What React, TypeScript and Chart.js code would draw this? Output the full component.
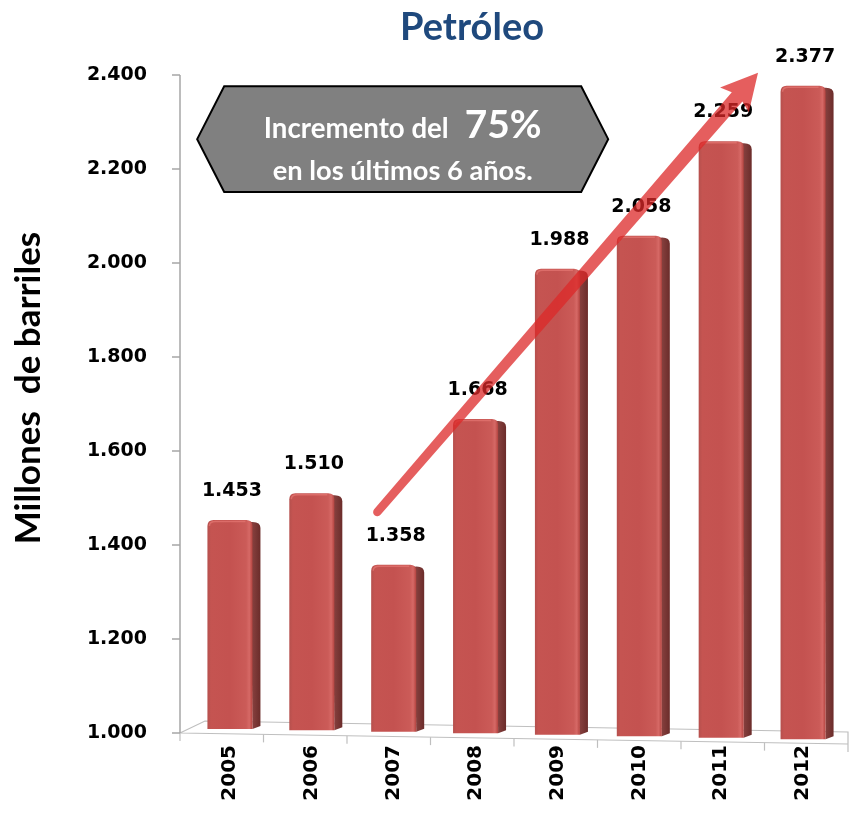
import React, { useEffect, useRef } from 'react';
import { Chart, registerables } from 'chart.js';

Chart.register(...registerables);

// ---- Data ----
const categories = ['2005', '2006', '2007', '2008', '2009', '2010', '2011', '2012'];
const values = [1453, 1510, 1358, 1668, 1988, 2058, 2259, 2377];
const yMin = 1000;
const yMax = 2400;
const yStep = 200;
const chartTitle = 'Petróleo';
const yTitle = 'Millones  de barriles';
const calloutLine1a = 'Incremento del';
const calloutLine1b = '75%';
const calloutLine2 = 'en los últimos 6 años.';
// arrow and callout anchored in data space (category index, value)
const arrowFrom = { x: 1.8, y: 1470 };
const arrowTo = { x: 6.45, y: 2405 };
const calloutBox = { x0: -0.4, x1: 4.62, yTop: 2376, yBottom: 2151 };

const fmt = (v: number) => String(Math.round(v)).replace(/\B(?=(\d{3})+(?!\d))/g, '.');

const TICK_FONT = '"DejaVu Sans", Verdana, sans-serif';
const TEXT_FONT = 'Lato, "Open Sans", sans-serif';

function fitSize(ctx: CanvasRenderingContext2D, text: string, target: number, family: string) {
  ctx.font = `bold 100px ${family}`;
  const w = ctx.measureText(text).width;
  return (100 * target) / w;
}

const customPlugin = {
  id: 'customDraw',
  beforeDatasetsDraw(chart: any) {
    const ctx: CanvasRenderingContext2D = chart.ctx;
    const area = chart.chartArea;
    const axisX = area.left - 9;
    const rightX = area.right + 4;
    const y0 = area.bottom;
    ctx.save();
    // floor
    ctx.strokeStyle = '#bfbfbf';
    ctx.lineWidth = 1.2;
    ctx.beginPath();
    ctx.moveTo(axisX, y0);
    ctx.lineTo(rightX, y0 + 11);
    ctx.moveTo(axisX, y0);
    ctx.lineTo(axisX + 25, y0 - 12);
    ctx.lineTo(rightX, y0 - 1);
    ctx.lineTo(rightX, y0 + 11);
    ctx.stroke();
    // floor ticks
    const n = categories.length;
    for (let i = 0; i <= n; i++) {
      const t = i / n;
      const x = axisX + (rightX - axisX) * t;
      const y = y0 + 11 * t;
      ctx.beginPath();
      ctx.moveTo(x, y);
      ctx.lineTo(x, y + 8);
      ctx.stroke();
    }
    // y axis line with ticks
    ctx.strokeStyle = '#a6a6a6';
    ctx.lineWidth = 1.5;
    ctx.beginPath();
    ctx.moveTo(axisX, area.top);
    ctx.lineTo(axisX, area.bottom);
    const ys = chart.scales.y;
    for (let v = yMin; v <= yMax; v += yStep) {
      const py = ys.getPixelForValue(v);
      ctx.moveTo(axisX - 8, py);
      ctx.lineTo(axisX, py);
    }
    ctx.stroke();
    ctx.restore();
  },
  afterDatasetsDraw(chart: any) {
    const ctx: CanvasRenderingContext2D = chart.ctx;
    const area = chart.chartArea;
    const xs = chart.scales.x;
    const ys = chart.scales.y;
    const meta = chart.getDatasetMeta(0);
    const axisX = area.left - 9;
    const rightX = area.right + 4;
    ctx.save();

    // bars (3D look)
    meta.data.forEach((el: any) => {
      const { x, y, width } = el.getProps(['x', 'y', 'width'], true);
      const left = x - width / 2;
      const right = x + width / 2;
      const t = (x - axisX) / (rightX - axisX);
      const base = area.bottom - 5 + 12 * t;
      const depth = 8;
      const r = 6;
      // side face
      const sg = ctx.createLinearGradient(right, 0, right + depth, 0);
      sg.addColorStop(0, '#86403e');
      sg.addColorStop(1, '#6b2c2a');
      ctx.fillStyle = sg;
      ctx.beginPath();
      ctx.moveTo(right - 2, y + 2);
      ctx.quadraticCurveTo(right + depth, y + 1, right + depth, y + r + 2);
      ctx.lineTo(right + depth, base - 3);
      ctx.lineTo(right, base);
      ctx.closePath();
      ctx.fill();
      // front face
      const fg = ctx.createLinearGradient(left, 0, right, 0);
      fg.addColorStop(0, '#b5504d');
      fg.addColorStop(0.08, '#c55451');
      fg.addColorStop(0.5, '#c45250');
      fg.addColorStop(0.86, '#cb5b58');
      fg.addColorStop(0.93, '#d66966');
      fg.addColorStop(1, '#b3433f');
      ctx.fillStyle = fg;
      ctx.beginPath();
      ctx.moveTo(left, base);
      ctx.lineTo(left, y + r);
      ctx.quadraticCurveTo(left, y, left + r, y);
      ctx.lineTo(right - r, y);
      ctx.quadraticCurveTo(right, y, right, y + r);
      ctx.lineTo(right, base);
      ctx.closePath();
      ctx.fill();
      // top rim highlight
      ctx.strokeStyle = 'rgba(230,120,115,0.7)';
      ctx.lineWidth = 1.5;
      ctx.beginPath();
      ctx.moveTo(left + 2, y + r);
      ctx.quadraticCurveTo(left + 2, y + 1.5, left + r + 2, y + 1.5);
      ctx.lineTo(right - r - 1, y + 1.5);
      ctx.stroke();
    });

    // data labels
    ctx.fillStyle = '#000';
    ctx.font = `bold 19px ${TICK_FONT}`;
    ctx.textAlign = 'center';
    ctx.textBaseline = 'middle';
    meta.data.forEach((el: any, i: number) => {
      const { x, y } = el.getProps(['x', 'y'], true);
      ctx.fillText(fmt(values[i]), x + 2, y - 29);
    });

    // arrow (tapered shaft + head, single fill)
    const x1 = xs.getPixelForValue(arrowFrom.x);
    const y1 = ys.getPixelForValue(arrowFrom.y);
    const x2 = xs.getPixelForValue(arrowTo.x);
    const y2 = ys.getPixelForValue(arrowTo.y);
    const L = Math.hypot(x2 - x1, y2 - y1);
    const ang = Math.atan2(y2 - y1, x2 - x1);
    const headLen = 32;
    const headHalf = 19;
    const w0 = 4.2;
    const w1 = 7;
    const Lb = L - headLen;
    ctx.save();
    ctx.translate(x1, y1);
    ctx.rotate(ang);
    ctx.fillStyle = 'rgba(220,40,40,0.75)';
    ctx.beginPath();
    ctx.moveTo(0, w0);
    ctx.arc(0, 0, w0, Math.PI / 2, (3 * Math.PI) / 2);
    ctx.lineTo(Lb, -w1);
    ctx.lineTo(Lb - 4, -headHalf);
    ctx.lineTo(L, 0);
    ctx.lineTo(Lb - 4, headHalf);
    ctx.lineTo(Lb, w1);
    ctx.closePath();
    ctx.fill();
    ctx.restore();

    // callout hexagon
    const cx0 = xs.getPixelForValue(calloutBox.x0);
    const cx1 = xs.getPixelForValue(calloutBox.x1);
    const cyT = ys.getPixelForValue(calloutBox.yTop);
    const cyB = ys.getPixelForValue(calloutBox.yBottom);
    const cyM = (cyT + cyB) / 2;
    const inset = 27;
    ctx.fillStyle = '#808080';
    ctx.strokeStyle = '#000';
    ctx.lineWidth = 2;
    ctx.beginPath();
    ctx.moveTo(cx0, cyM);
    ctx.lineTo(cx0 + inset, cyT);
    ctx.lineTo(cx1 - inset, cyT);
    ctx.lineTo(cx1, cyM);
    ctx.lineTo(cx1 - inset, cyB);
    ctx.lineTo(cx0 + inset, cyB);
    ctx.closePath();
    ctx.fill();
    ctx.stroke();

    const boxW = cx1 - cx0;
    const cxC = (cx0 + cx1) / 2;
    const s1 = fitSize(ctx, calloutLine1a, boxW * 0.45, TEXT_FONT);
    const s1b = fitSize(ctx, calloutLine1b, boxW * 0.187, TEXT_FONT);
    const s2 = fitSize(ctx, calloutLine2, boxW * 0.633, TEXT_FONT);
    ctx.fillStyle = '#fff';
    ctx.textBaseline = 'alphabetic';
    ctx.textAlign = 'left';
    ctx.font = `bold ${s1}px ${TEXT_FONT}`;
    const wA = ctx.measureText(calloutLine1a).width;
    ctx.font = `bold ${s1b}px ${TEXT_FONT}`;
    const wB = ctx.measureText(calloutLine1b).width;
    const gap = 16;
    const startX = cxC - (wA + gap + wB) / 2;
    const base1 = cyT + (cyB - cyT) * 0.49;
    const base2 = cyT + (cyB - cyT) * 0.89;
    ctx.font = `bold ${s1}px ${TEXT_FONT}`;
    ctx.fillText(calloutLine1a, startX, base1);
    ctx.font = `bold ${s1b}px ${TEXT_FONT}`;
    ctx.fillText(calloutLine1b, startX + wA + gap, base1);
    ctx.textAlign = 'center';
    ctx.font = `bold ${s2}px ${TEXT_FONT}`;
    ctx.fillText(calloutLine2, cxC, base2);

    // chart title
    ctx.fillStyle = '#1f497d';
    ctx.textAlign = 'right';
    ctx.font = `bold 38px ${TEXT_FONT}`;
    ctx.fillText(chartTitle, 544, 40);

    // y axis title
    ctx.save();
    ctx.translate(40, (area.top + area.bottom) / 2 - 16);
    ctx.rotate(-Math.PI / 2);
    ctx.fillStyle = '#000';
    ctx.textAlign = 'center';
    ctx.font = `bold 35px ${TEXT_FONT}`;
    ctx.fillText(yTitle, 0, 0);
    ctx.restore();

    ctx.restore();
  },
};

export default function App() {
  const canvasRef = useRef<HTMLCanvasElement | null>(null);

  useEffect(() => {
    document.body.style.margin = '0';
    const canvas = canvasRef.current;
    if (!canvas) return;
    const chart = new Chart(canvas, {
      type: 'bar',
      data: {
        labels: categories,
        datasets: [
          {
            data: values,
            backgroundColor: 'rgba(0,0,0,0)',
            borderWidth: 0,
            barPercentage: 0.55,
            categoryPercentage: 1,
          },
        ],
      },
      options: {
        responsive: false,
        animation: false,
        devicePixelRatio: 1,
        layout: { padding: { top: 75, right: 5, left: 0, bottom: 0 } },
        plugins: {
          legend: { display: false },
          title: { display: false },
          tooltip: { enabled: false },
        },
        scales: {
          x: {
            grid: { display: false, drawTicks: false },
            border: { display: false },
            ticks: {
              autoSkip: false,
              maxRotation: 90,
              minRotation: 90,
              padding: 12,
              color: '#000',
              font: { family: TICK_FONT, size: 20, weight: 'bold' },
            },
            afterFit: (s: any) => {
              s.height = 82;
            },
          },
          y: {
            min: yMin,
            max: yMax,
            grid: { display: false, drawTicks: false },
            border: { display: false },
            ticks: {
              stepSize: yStep,
              padding: 42,
              color: '#000',
              font: { family: TICK_FONT, size: 19, weight: 'bold' },
              callback: (v: any) => fmt(Number(v)),
            },
            afterFit: (s: any) => {
              s.width = 189;
            },
          },
        },
      },
      plugins: [customPlugin],
    });
    return () => chart.destroy();
  }, []);

  return (
    <div style={{ width: 849, height: 815 }}>
      <canvas ref={canvasRef} width={849} height={815} style={{ display: 'block' }} />
    </div>
  );
}
